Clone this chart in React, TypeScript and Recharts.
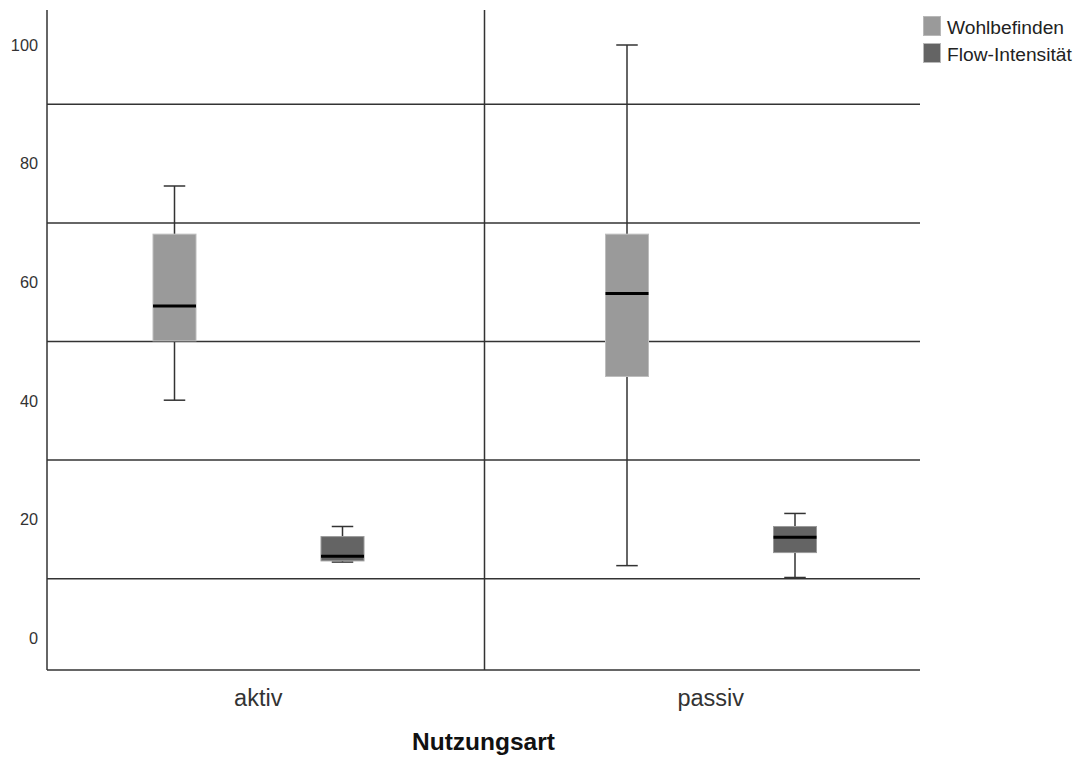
import React from 'react';
import { ComposedChart, Bar, XAxis, YAxis, CartesianGrid, ReferenceLine, Legend } from 'recharts';

const categories = ['aktiv', 'passiv'];
const seriesNames = ['Wohlbefinden', 'Flow-Intensität'];

const wohlMin = [40.1, 12.2];
const wohlQ1 = [50.1, 44.1];
const wohlMedian = [56.0, 58.1];
const wohlQ3 = [68.1, 68.1];
const wohlMax = [76.2, 100.0];

const flowMin = [12.8, 10.2];
const flowQ1 = [13.0, 14.4];
const flowMedian = [13.8, 17.0];
const flowQ3 = [17.1, 18.8];
const flowMax = [18.8, 21.0];

const yTicks = [0, 20, 40, 60, 80, 100];
const gridValues = [10, 30, 50, 70, 90];
const yDomain = [-5.4, 105.9];

type Stats = { min: number; q1: number; med: number; q3: number; max: number };
type Row = { cat: string; wohl: Stats; flow: Stats };

const data: Row[] = categories.map((cat, i) => ({
  cat,
  wohl: { min: wohlMin[i], q1: wohlQ1[i], med: wohlMedian[i], q3: wohlQ3[i], max: wohlMax[i] },
  flow: { min: flowMin[i], q1: flowQ1[i], med: flowMedian[i], q3: flowQ3[i], max: flowMax[i] },
}));

const FONT = '"Liberation Sans", Arial, Helvetica, sans-serif';
const LINE = '#333333';

const makeBox = (key: 'wohl' | 'flow', fill: string, stroke: string) => (props: any) => {
  const { x, y, width, height, payload } = props;
  const s: Stats = payload[key];
  const top = Math.min(y, y + height);
  const h = Math.abs(height);
  const ppu = h / (s.q3 - s.q1);
  const py = (v: number) => top + (s.q3 - v) * ppu;
  const cx = x + width / 2;
  const capW = width / 2;
  return (
    <g>
      <line x1={cx} x2={cx} y1={py(s.max)} y2={top} stroke={LINE} strokeWidth={1.5} />
      <line x1={cx} x2={cx} y1={top + h} y2={py(s.min)} stroke={LINE} strokeWidth={1.5} />
      <line x1={cx - capW / 2} x2={cx + capW / 2} y1={py(s.max)} y2={py(s.max)} stroke={LINE} strokeWidth={1.5} />
      <line x1={cx - capW / 2} x2={cx + capW / 2} y1={py(s.min)} y2={py(s.min)} stroke={LINE} strokeWidth={1.5} />
      <rect x={x} y={top} width={width} height={h} fill={fill} stroke={stroke} strokeWidth={1} />
      <line x1={x} x2={x + width} y1={py(s.med)} y2={py(s.med)} stroke="#000" strokeWidth={3} />
    </g>
  );
};

const renderLegend = (props: any) => {
  const payload = [...(props.payload || [])].sort(
    (a: any, b: any) => seriesNames.indexOf(a.value) - seriesNames.indexOf(b.value)
  );
  return (
    <div style={{ fontFamily: FONT, fontSize: 19.2, color: '#222' }}>
      {payload.map((e: any) => (
        <div key={e.value} style={{ display: 'flex', alignItems: 'center', height: 27, whiteSpace: 'nowrap' }}>
          <span
            style={{
              display: 'inline-block',
              width: 18,
              height: 20,
              background: e.color,
              border: '1px solid #b8b8b8',
              boxSizing: 'border-box',
              marginRight: 6,
            }}
          />
          <span style={{ position: 'relative', top: 2 }}>{e.value}</span>
        </div>
      ))}
    </div>
  );
};

export default function App() {
  return (
    <div style={{ width: 1066, height: 747 }}>
      <ComposedChart
        width={1066}
        height={747}
        data={data}
        margin={{ top: 2, right: 154, bottom: 0, left: 0 }}
        barGap={125}
        style={{ fontFamily: FONT }}
      >
        <CartesianGrid
          vertical={false}
          stroke={LINE}
          strokeWidth={1.5}
          horizontalValues={gridValues}
        />
        <XAxis
          dataKey="cat"
          type="category"
          height={85}
          padding={{ left: -15, right: -17 }}
          tickLine={false}
          axisLine={{ stroke: LINE, strokeWidth: 1.5 }}
          tickMargin={13}
          tick={{ fontSize: 23.5, fill: '#333', fontFamily: FONT }}
          label={{
            value: 'Nutzungsart',
            position: 'insideBottom',
            offset: 5,
            style: { fontSize: 24.5, fontWeight: 'bold', fill: '#111', fontFamily: FONT },
          }}
        />
        <YAxis
          type="number"
          domain={yDomain}
          ticks={yTicks}
          width={39}
          tickLine={false}
          axisLine={{ stroke: LINE, strokeWidth: 1.5 }}
          tickMargin={3}
          tick={{ fontSize: 16.3, fill: '#333', fontFamily: FONT }}
          allowDataOverflow
        />
        <ReferenceLine x="passiv" position="start" stroke={LINE} strokeWidth={1.5} ifOverflow="extendDomain" />
        <Bar
          name={seriesNames[0]}
          dataKey={(d: Row) => [d.wohl.q1, d.wohl.q3]}
          fill="#9a9a9a"
          barSize={43}
          shape={makeBox('wohl', '#9a9a9a', '#bdbdbd')}
          isAnimationActive={false}
        />
        <Bar
          name={seriesNames[1]}
          dataKey={(d: Row) => [d.flow.q1, d.flow.q3]}
          fill="#646464"
          barSize={43}
          shape={makeBox('flow', '#646464', '#9a9a9a')}
          isAnimationActive={false}
        />
        <Legend
          layout="vertical"
          align="center"
          verticalAlign="middle"
          content={renderLegend}
          wrapperStyle={{ left: 915, top: 4, width: 'auto' }}
        />
      </ComposedChart>
    </div>
  );
}
